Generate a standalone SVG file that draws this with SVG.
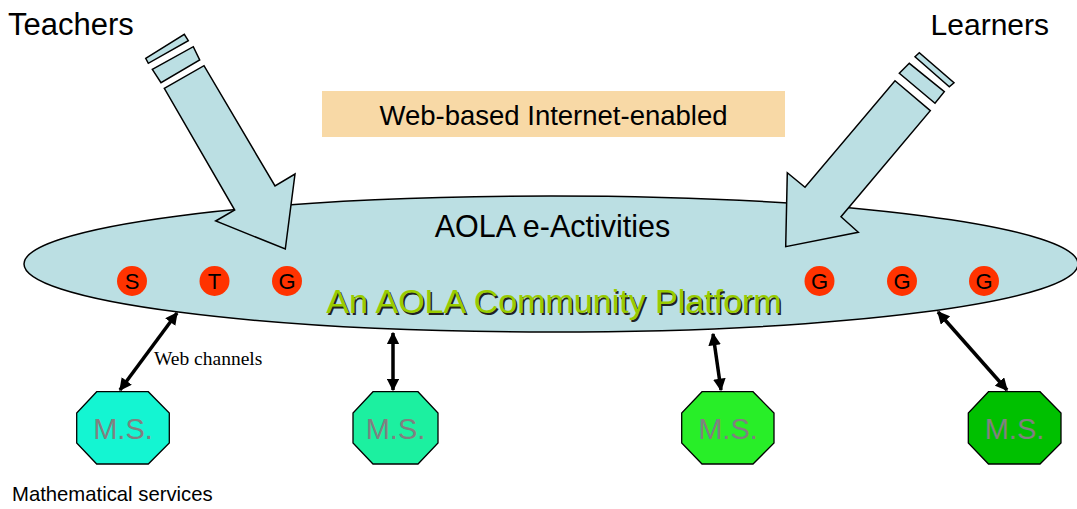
<svg xmlns="http://www.w3.org/2000/svg" width="1077" height="509" viewBox="0 0 1077 509">
<style>
.sans{font-family:"Liberation Sans",Arial,sans-serif}
.shape{fill:#BBDFE3;stroke:#000;stroke-width:1.5;stroke-linejoin:miter}
.dot{fill:#FF3300}
.dotlbl{font-family:"Liberation Sans",Arial,sans-serif;font-size:22px;fill:#000;text-anchor:middle}
.oct{stroke:#000;stroke-width:1.3}
.ms{font-family:"Liberation Sans",Arial,sans-serif;font-size:29px;fill:#808080;text-anchor:middle}
.conn{stroke:#000;stroke-width:3.5;fill:none;marker-start:url(#ah);marker-end:url(#ah)}
</style>
<defs>
<marker id="ah" viewBox="0 0 10 10" refX="9" refY="5" markerWidth="3.6" markerHeight="3.6" orient="auto-start-reverse" markerUnits="strokeWidth">
<path d="M0,0 L10,5 L0,10 z" fill="#000"/>
</marker>
</defs>
<rect width="1077" height="509" fill="#fff"/>
<g id="platform">
<ellipse class="shape" cx="551" cy="264" rx="527" ry="68"/>
</g>
<g id="banner">
<rect x="322" y="91" width="463" height="46" fill="#F8D9A6"/>
<text class="sans" x="553.5" y="125" font-size="27.5" text-anchor="middle" fill="#000">Web-based Internet-enabled</text>
</g>
<g id="teachers">
<text class="sans" x="8" y="35" font-size="31" fill="#000">Teachers</text>
<polygon class="shape" points="145.7,58.3 184.3,34.3 188.3,40.7 148.3,63.3"/>
<polygon class="shape" points="152.3,69.3 193.3,46.7 199.7,60 161,82.7"/>
<polygon class="shape" points="164.3,88.3 204,65.7 275,186 295,174 285.3,249 215.7,221 234.7,210"/>
</g>
<g id="learners">
<text class="sans" x="1049" y="35" font-size="30" text-anchor="end" fill="#000">Learners</text>
<polygon class="shape" points="915,56.7 919.3,52.7 954,82.7 949.3,86.7"/>
<polygon class="shape" points="899.3,73.3 909.3,63.3 944.3,91.7 935,103.3"/>
<polygon class="shape" points="895,80.7 930.3,110.7 841,216.7 858.3,232.3 785.7,246.7 787.3,172.7 805,187.3"/>
</g>
<g id="activities">
<text class="sans" x="552.5" y="237" font-size="30.5" text-anchor="middle" fill="#000">AOLA e-Activities</text>
</g>
<g id="dot-S"><circle class="dot" cx="132" cy="281" r="15"/><text class="dotlbl" x="132" y="289">S</text></g>
<g id="dot-T"><circle class="dot" cx="214.5" cy="281" r="15"/><text class="dotlbl" x="214.5" y="289">T</text></g>
<g id="dot-G1"><circle class="dot" cx="287" cy="281" r="15"/><text class="dotlbl" x="287" y="289">G</text></g>
<g id="dot-G2"><circle class="dot" cx="819.5" cy="281" r="15"/><text class="dotlbl" x="819.5" y="289">G</text></g>
<g id="dot-G3"><circle class="dot" cx="902" cy="281" r="15"/><text class="dotlbl" x="902" y="289">G</text></g>
<g id="dot-G4"><circle class="dot" cx="984" cy="281" r="15"/><text class="dotlbl" x="984" y="289">G</text></g>
<g id="community">
<text class="sans" x="555.5" y="314.5" font-size="34" text-anchor="middle" fill="#222">An AOLA Community Platform</text>
<text class="sans" x="554" y="313" font-size="34" text-anchor="middle" fill="#99CC00">An AOLA Community Platform</text>
</g>
<g id="connectors">
<line class="conn" x1="120" y1="390" x2="177" y2="313"/>
<line class="conn" x1="393" y1="390" x2="393" y2="333"/>
<line class="conn" x1="721" y1="390" x2="713" y2="334"/>
<line class="conn" x1="1007" y1="390" x2="938" y2="312"/>
</g>
<g id="web-channels">
<text x="154" y="365" font-family="'Liberation Serif','Times New Roman',serif" font-size="19.5" fill="#000">Web channels</text>
</g>
<g id="ms1">
<polygon class="oct" fill="#14F5D2" points="96.7,391.7 148.3,391.7 169.3,413 169.3,443 148.3,464 96.7,464 76.7,443 76.7,413"/>
<text class="ms" x="123" y="439">M.S.</text>
</g>
<g id="ms2">
<polygon class="oct" fill="#1CF0A0" points="373,391.7 418,391.7 438,413 438,443 418,464 373,464 353,443 353,413"/>
<text class="ms" x="395.5" y="439">M.S.</text>
</g>
<g id="ms3">
<polygon class="oct" fill="#28EE28" points="702,391.7 753,391.7 774,413 774,443 753,464 702,464 681.7,443 681.7,413"/>
<text class="ms" x="728" y="439">M.S.</text>
</g>
<g id="ms4">
<polygon class="oct" fill="#00C000" points="988.5,391.7 1040,391.7 1061,413 1061,443 1040,464 988.5,464 968.3,443 968.3,413"/>
<text class="ms" x="1014.5" y="439">M.S.</text>
</g>
<g id="caption">
<text class="sans" x="12" y="501" font-size="20.3" fill="#000">Mathematical services</text>
</g>
</svg>
